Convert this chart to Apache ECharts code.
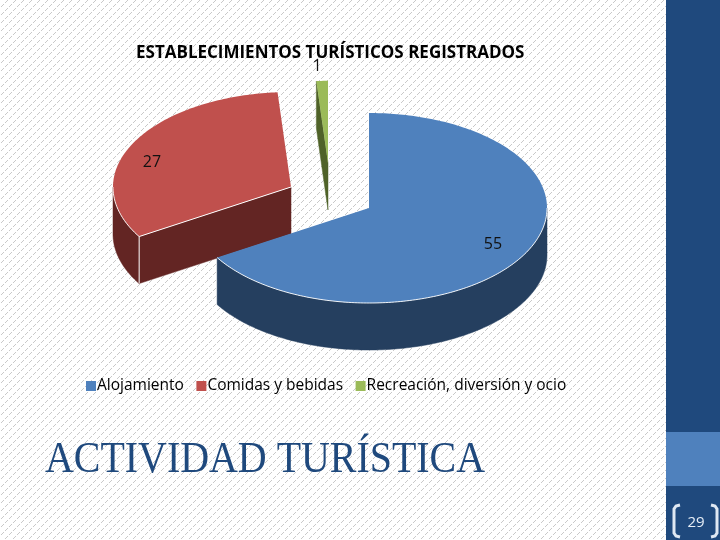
<!DOCTYPE html>
<html><head><meta charset="utf-8">
<style>html,body{margin:0;padding:0;background:#fff}#c{width:720px;height:540px}</style>
<script src="https://cdn.jsdelivr.net/npm/echarts@6/dist/echarts.min.js"></script>
</head><body><div id="c"></div>
<script>
const chartTitle = 'ESTABLECIMIENTOS TURÍSTICOS REGISTRADOS';
const footerTitle = 'ACTIVIDAD TURÍSTICA';
const pageNumber = '29';
const categories = ['Alojamiento', 'Comidas y bebidas', 'Recreación, diversión y ocio'];
const values = [55, 27, 1];

// presentation only: colours and 3D layout of each slice
const topColors = ['#4f81bd', '#c0504d', '#9bbb59'];
const sideColors = ['#253f5f', '#632523', '#4f6228'];
const centers = [[369, 208], [291, 187], [328, 163]];
const radiusScale = [1, 1, 0.865];
const labelAt = [[124, 36], [-139, -25], [-11, -97]];
const RX = 178, RY = 95, DEPTH = 47;

const total = values.reduce((a, b) => a + b, 0);
const pt = (c, deg, s) => {
  const t = deg * Math.PI / 180;
  return [c[0] + RX * s * Math.sin(t), c[1] - RY * s * Math.cos(t)];
};
const arc = (c, a0, a1, s) => {
  const out = [], n = Math.max(2, Math.ceil(Math.abs(a1 - a0)));
  for (let i = 0; i <= n; i++) out.push(pt(c, a0 + (a1 - a0) * i / n, s));
  return out;
};
const drop = p => [p[0], p[1] + DEPTH];

function sliceRenderer(idx) {
  return function (params, api) {
    const v = api.value(0);
    let before = 0;
    for (let i = 0; i < idx; i++) before += values[i];
    const a0 = before / total * 360, a1 = (before + v) / total * 360;
    const c = centers[idx], s = radiusScale[idx];
    const children = [];
    const side = sideColors[idx];
    // arc wall, front half of the ellipse only
    const w0 = Math.max(a0, 90), w1 = Math.min(a1, 270);
    if (w1 > w0) {
      const top = arc(c, w0, w1, s);
      children.push({ type: 'polygon', shape: { points: top.concat(top.slice().reverse().map(drop)) },
        style: { fill: side, stroke: side, lineWidth: 0.5 } });
    }
    // radial cut face at the start of the slice
    if (Math.sin(a0 * Math.PI / 180) < -1e-6) {
      const e = pt(c, a0, s);
      children.push({ type: 'polygon', shape: { points: [c, e, drop(e), drop(c)] },
        style: { fill: side, stroke: side, lineWidth: 0.5 } });
      if (idx === 1) children.push({ type: 'line', shape: { x1: e[0], y1: e[1], x2: e[0], y2: e[1] + DEPTH },
        style: { stroke: '#ffffff', lineWidth: 1 } });
    }
    // top face
    children.push({ type: 'polygon', shape: { points: [c].concat(arc(c, a0, a1, s)) },
      style: { fill: topColors[idx] } });
    // thin white rim along the visible front edge
    if (w1 > w0) children.push({ type: 'polyline', shape: { points: arc(c, w0, w1, s) },
      style: { fill: 'none', stroke: '#ffffff', lineWidth: 1, opacity: 0.9 } });
    if (idx === 1) children.push({ type: 'line', shape: { x1: c[0], y1: c[1], x2: pt(c, a0, s)[0], y2: pt(c, a0, s)[1] },
      style: { stroke: '#ffffff', lineWidth: 1 } });
    children.push({ type: 'text', style: { x: c[0] + labelAt[idx][0], y: c[1] + labelAt[idx][1],
      text: String(v), fill: '#111111', font: '16px "Open Sans"', textAlign: 'center', textVerticalAlign: 'middle' } });
    return { type: 'group', children };
  };
}

// diagonal dotted paper texture
const tex = document.createElement('canvas');
tex.width = tex.height = 8;
const tc = tex.getContext('2d');
tc.fillStyle = '#ffffff'; tc.fillRect(0, 0, 8, 8);
tc.fillStyle = '#c9c9c9';
for (let i = 0; i < 8; i++) if (i % 4 !== 3) tc.fillRect(7 - i, i, 1, 1);

const chart = echarts.init(document.getElementById('c'), null, { renderer: 'canvas' });
const seriesOrder = [1, 2, 0];
const bracket = (pts) => ({ type: 'polyline', shape: { points: pts }, style: { fill: 'none', stroke: '#dfe8f3', lineWidth: 3 }, z: 11 });
chart.setOption({
  animation: false,
  backgroundColor: { image: tex, repeat: 'repeat' },
  title: { text: chartTitle, left: 131, top: 40, textStyle: { fontFamily: '"Open Sans"', fontWeight: 'bold', fontSize: 17, color: '#000' } },
  legend: {
    data: categories, left: 81, top: 373, icon: 'rect', itemWidth: 10, itemHeight: 10, itemGap: 12.5,
    textStyle: { fontFamily: '"Open Sans"', fontSize: 15.5, color: '#000', padding: [0, 0, 0, -4] }
  },
  graphic: [
    { type: 'rect', shape: { x: 666, y: 0, width: 54, height: 540 }, style: { fill: '#1f497d' }, z: 10 },
    { type: 'rect', shape: { x: 666, y: 432, width: 54, height: 54 }, style: { fill: '#4f81bd' }, z: 10 },
    bracket([[680, 505], [676, 506], [674, 509], [674, 533], [676, 536], [680, 537]]),
    bracket([[711, 505], [715, 506], [717, 509], [717, 533], [715, 536], [711, 537]]),
    { type: 'text', style: { x: 696, y: 523, text: pageNumber, fill: '#e6eef7', font: '15px "Open Sans"', textAlign: 'center', textVerticalAlign: 'middle' }, z: 11 },
    { type: 'text', x: 45, y: 460, scaleX: 0.907, style: { x: 0, y: 0, text: footerTitle, fill: '#1f497d', font: '44px "Liberation Serif"', textAlign: 'left', textVerticalAlign: 'middle' }, z: 11 }
  ],
  series: seriesOrder.map(i => ({
    type: 'custom', name: categories[i], coordinateSystem: 'none', silent: true,
    itemStyle: { color: topColors[i] },
    renderItem: sliceRenderer(i), data: [[values[i]]]
  }))
});
</script></body></html>
